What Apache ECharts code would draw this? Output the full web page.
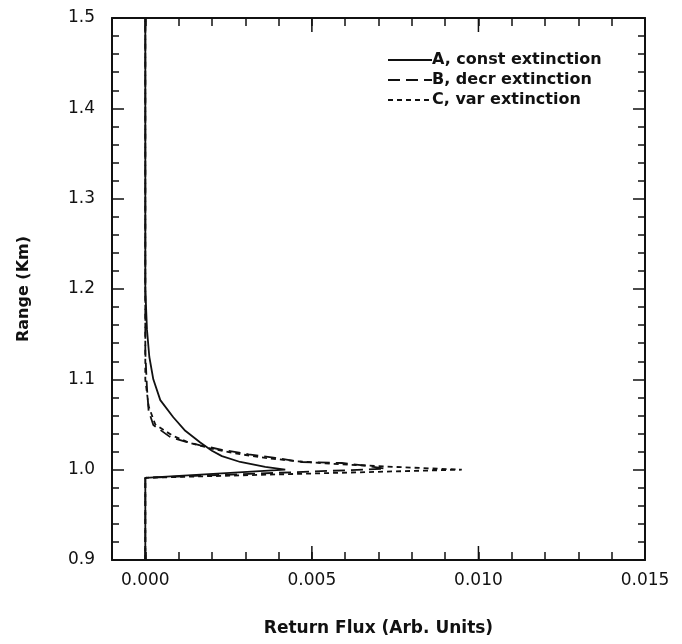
<!DOCTYPE html>
<html>
<head>
<meta charset="utf-8">
<script src="https://cdn.jsdelivr.net/npm/echarts@6/dist/echarts.min.js"></script>
<style>
 html, body { margin: 0; padding: 0; background: #fff; }
 #main { width: 682px; height: 644px; }
</style>
</head>
<body>
<div id="main"></div>
<script>
// return flux (x) against range (y)
var rangeA = [0.9, 0.991, 1.0, 1.003, 1.0085, 1.015, 1.021, 1.03, 1.043, 1.058, 1.077, 1.1, 1.125, 1.155, 1.2, 1.5];
var fluxA = [0, 0, 0.0042, 0.0036, 0.00285, 0.0023, 0.002, 0.00165, 0.0012, 0.00084, 0.00045, 0.00024, 0.00012, 0.00005, 0, 0];

var rangeB = [0.9, 0.991, 1.001, 1.004, 1.0074, 1.0085, 1.013, 1.017, 1.022, 1.027, 1.031, 1.036, 1.0495, 1.065, 1.09, 1.13, 1.5];
var fluxB = [0, 0, 0.0072, 0.0067, 0.0059, 0.0047, 0.0039, 0.0031, 0.0023, 0.00165, 0.0012, 0.00075, 0.00024, 0.0001, 0.00005, 0, 0];

var rangeC = [0.9, 0.991, 1.0, 1.0015, 1.003, 1.005, 1.007, 1.0095, 1.013, 1.018, 1.024, 1.03, 1.038, 1.05, 1.07, 1.1, 1.5];
var fluxC = [0, 0, 0.0095, 0.0085, 0.0075, 0.0064, 0.0054, 0.0045, 0.0036, 0.0027, 0.0019, 0.0013, 0.0008, 0.0003, 0.0001, 0, 0];

var seriesNames = ['A, const extinction', 'B, decr extinction', 'C, var extinction'];
var xMajorTicks = [0, 0.005, 0.010, 0.015];

function pairs(xs, ys) {
 var out = [];
 for (var i = 0; i < xs.length; i++) out.push([xs[i], ys[i]]);
 return out;
}

var ink = '#111';

var chart = echarts.init(document.getElementById('main'), null, { renderer: 'canvas' });

function xAxisCfg(pos, showLabel) {
 return {
  type: 'value', position: pos, min: -0.001, max: 0.015, interval: 0.001,
  axisLine: { show: true, onZero: false, lineStyle: { color: ink, width: 2 } },
  axisTick: { show: true, inside: true, length: 8, lineStyle: { color: ink, width: 1.5 } },
  splitLine: { show: false },
  axisLabel: {
   show: showLabel, margin: 12, color: ink, fontFamily: 'DejaVu Sans', fontSize: 17,
   formatter: function (v) {
    var k = Math.round(v * 1000);
    return (k >= 0 && k % 5 === 0) ? (k / 1000).toFixed(3) : '';
   }
  },
  name: showLabel ? 'Return Flux (Arb. Units)' : '',
  nameLocation: 'middle', nameGap: 60,
  nameTextStyle: { color: ink, fontFamily: 'DejaVu Sans', fontWeight: 'bold', fontSize: 17 }
 };
}

function yAxisCfg(pos, showLabel) {
 return {
  type: 'value', position: pos, min: 0.9, max: 1.5, interval: 0.1,
  axisLine: { show: true, onZero: false, lineStyle: { color: ink, width: 2 } },
  axisTick: { show: true, inside: true, length: 12, lineStyle: { color: ink, width: 1.5 } },
  minorTick: { show: true, splitNumber: 5, length: 7, lineStyle: { color: ink, width: 1.5 } },
  splitLine: { show: false },
  axisLabel: {
   show: showLabel, margin: 17, color: ink, fontFamily: 'DejaVu Sans', fontSize: 17,
   formatter: function (v) { return v.toFixed(1); }
  },
  name: showLabel ? 'Range (Km)' : '',
  nameLocation: 'middle', nameGap: 80, nameRotate: 90,
  nameTextStyle: { color: ink, fontFamily: 'DejaVu Sans', fontWeight: 'bold', fontSize: 16 }
 };
}

function lineSeries(name, xs, ys, dash) {
 return {
  name: name, type: 'line', xAxisIndex: 0, yAxisIndex: 0,
  data: pairs(xs, ys), showSymbol: false, symbol: 'none', smooth: false,
  lineStyle: { color: ink, width: 1.8, type: dash },
  itemStyle: { color: ink },
  emphasis: { disabled: true }, z: 3
 };
}

var option = {
 backgroundColor: '#fff',
 animation: false,
 grid: { left: 112, right: 37, top: 18, bottom: 84 },
 legend: {
  data: seriesNames, orient: 'vertical', left: 382, top: 47,
  itemWidth: 44, itemHeight: 10, itemGap: 4,
  itemStyle: { color: 'transparent', borderWidth: 0 },
  textStyle: { color: ink, fontFamily: 'DejaVu Sans', fontWeight: 'bold', fontSize: 16, padding: [0, 0, 0, -5] },
  selectedMode: false
 },
 xAxis: [xAxisCfg('bottom', true), xAxisCfg('top', false)],
 yAxis: [yAxisCfg('left', true), yAxisCfg('right', false)],
 series: [
  lineSeries(seriesNames[0], fluxA, rangeA, 'solid'),
  lineSeries(seriesNames[1], fluxB, rangeB, [12, 6]),
  lineSeries(seriesNames[2], fluxC, rangeC, [5, 4]),
  {
   // longer ticks at the labelled flux values, top and bottom
   type: 'custom', xAxisIndex: 0, yAxisIndex: 0, silent: true,
   data: xMajorTicks,
   renderItem: function (params, api) {
    var v = api.value(0);
    var b = api.coord([v, 0.9]);
    var t = api.coord([v, 1.5]);
    var st = { stroke: ink, lineWidth: 1.5 };
    return {
     type: 'group', children: [
      { type: 'line', shape: { x1: b[0], y1: b[1], x2: b[0], y2: b[1] - 14 }, style: st },
      { type: 'line', shape: { x1: t[0], y1: t[1], x2: t[0], y2: t[1] + 14 }, style: st }
     ]
    };
   },
   encode: { x: 0 }
  }
 ]
};

chart.setOption(option);
</script>
</body>
</html>
